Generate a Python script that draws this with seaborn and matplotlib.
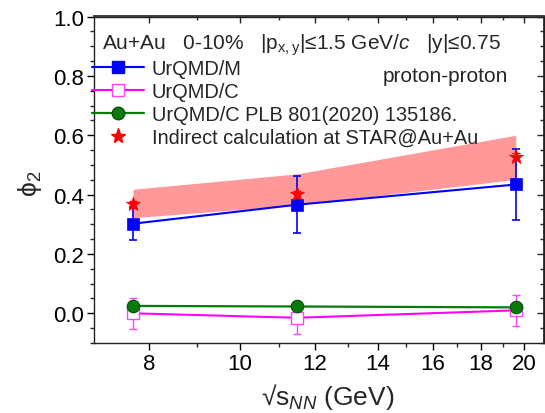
import numpy as np
import pandas as pd
import seaborn as sns
import matplotlib
matplotlib.use('Agg')
import matplotlib.pyplot as plt
from matplotlib.lines import Line2D
from matplotlib.ticker import FixedLocator, FixedFormatter, NullFormatter, MultipleLocator

# collision energies (GeV)
energy = [7.7, 11.5, 19.6]

# UrQMD/M
urqmd_m = [0.302, 0.366, 0.434]
urqmd_m_err = [0.055, 0.095, 0.118]

# UrQMD/C
urqmd_c = [0.0, -0.015, 0.010]
urqmd_c_err = [0.053, 0.053, 0.053]

# UrQMD/C PLB 801(2020) 135186
urqmd_plb = [0.025, 0.023, 0.020]

# indirect calculation at STAR
star_vals = [0.367, 0.401, 0.528]
star_err = [0.012, 0.012, 0.012]

# shaded band
band_low = [0.322, 0.365, 0.451]
band_high = [0.418, 0.470, 0.600]

xticks = [8, 10, 12, 14, 16, 18, 20]
xminor = [9, 11, 13, 15, 17, 19]

sns.set_theme(style='ticks')
plt.rcParams['font.family'] = ['Liberation Sans', 'DejaVu Sans']
plt.rcParams['mathtext.fontset'] = 'custom'
plt.rcParams['mathtext.rm'] = 'Liberation Sans'
plt.rcParams['mathtext.it'] = 'Liberation Sans:italic'
plt.rcParams['mathtext.bf'] = 'Liberation Sans:bold'

fig = plt.figure(figsize=(5.45, 4.14), dpi=100)
ax = fig.add_axes([94 / 545, 1 - 344 / 414, 450 / 545, 326.5 / 414])
ax.set_xscale('log')

# band
ax.fill_between(energy, band_low, band_high, color='#ff9999', lw=0, zorder=1)

# UrQMD/C PLB (green)
sns.lineplot(x=energy, y=urqmd_plb, color='#0a7a0a', marker='o', markersize=9,
             markeredgecolor='#065006', markeredgewidth=0.8, linewidth=1.6, ax=ax, zorder=4)

# UrQMD/C (magenta, open squares)
ax.errorbar(energy, urqmd_c, yerr=urqmd_c_err, fmt='none', ecolor='#ff44ff',
            elinewidth=1.0, capsize=3, capthick=1.0, zorder=3)
sns.lineplot(x=energy, y=urqmd_c, color='magenta', marker='s', markersize=8,
             markerfacecolor='white', markeredgecolor='#ff44ff', markeredgewidth=1.0,
             linewidth=1.5, ax=ax, zorder=3)

# UrQMD/M (blue)
ax.errorbar(energy, urqmd_m, yerr=urqmd_m_err, fmt='none', ecolor='blue',
            elinewidth=1.2, capsize=3, capthick=1.2, zorder=5)
sns.lineplot(x=energy, y=urqmd_m, color='blue', marker='s', markersize=8,
             markeredgecolor='blue', markeredgewidth=0.5, linewidth=1.5, ax=ax, zorder=5)

# STAR indirect (red stars)
ax.errorbar(energy, star_vals, yerr=star_err, fmt='none', ecolor='red',
            elinewidth=1.0, capsize=3, capthick=1.0, zorder=6)
sns.scatterplot(x=energy, y=star_vals, marker='*', s=115, color='red',
                edgecolor='red', linewidth=0.5, ax=ax, zorder=7)

ax.set_xlim(7, 21)
ax.set_ylim(-0.1, 1.0)
ax.xaxis.set_major_locator(FixedLocator(xticks))
ax.xaxis.set_major_formatter(FixedFormatter([str(t) for t in xticks]))
ax.xaxis.set_minor_locator(FixedLocator(xminor))
ax.xaxis.set_minor_formatter(NullFormatter())
ax.yaxis.set_major_locator(MultipleLocator(0.2))
ax.yaxis.set_minor_locator(MultipleLocator(0.05))
ax.yaxis.set_major_formatter(plt.FormatStrFormatter('%.1f'))

ax.tick_params(which='major', direction='out', length=5, width=1, labelsize=16,
               pad=2, colors='black')
ax.tick_params(which='minor', direction='out', length=3, width=1)
for s in ax.spines.values():
    s.set_linewidth(1.0)
    s.set_color('#222222')

# mirrored ticks on top and right
top = ax.secondary_xaxis('top')
top.xaxis.set_major_locator(FixedLocator(xticks))
top.xaxis.set_minor_locator(FixedLocator(xminor))
top.xaxis.set_major_formatter(NullFormatter())
top.xaxis.set_minor_formatter(NullFormatter())
top.tick_params(which='major', direction='in', length=5, width=1)
top.tick_params(which='minor', direction='in', length=3, width=1)
right = ax.secondary_yaxis('right')
right.yaxis.set_major_locator(MultipleLocator(0.2))
right.yaxis.set_minor_locator(MultipleLocator(0.05))
right.yaxis.set_major_formatter(NullFormatter())
right.tick_params(which='major', direction='in', length=5, width=1)
right.tick_params(which='minor', direction='in', length=3, width=1)

ax.set_xlabel(r'√s$_{NN}$ (GeV)', fontsize=19, labelpad=2)
ax.xaxis.set_label_coords(0.52, -0.115)
ax.set_ylabel(r'$\mathregular{\phi_2}$', fontsize=19)
ax.yaxis.set_label_coords(-0.11, 0.49)

ax.text(0.018, 0.916, r'Au+Au   0-10%   |p$_{\mathregular{x,y}}$|≤1.5 GeV/$c$   |y|≤0.75',
        transform=ax.transAxes, fontsize=15, va='center', ha='left')
ax.text(0.642, 0.818, 'proton-proton', transform=ax.transAxes, fontsize=15,
        va='center', ha='left')

handles = [
    Line2D([], [], color='blue', marker='s', markersize=8, markeredgecolor='blue', lw=1.5),
    Line2D([], [], color='magenta', marker='s', markersize=8, markerfacecolor='white',
           markeredgecolor='#ff44ff', lw=1.5),
    Line2D([], [], color='#0a7a0a', marker='o', markersize=9, markeredgecolor='#065006', lw=1.6),
    Line2D([], [], color='red', marker='*', markersize=11, lw=0),
]
labels = ['UrQMD/M', 'UrQMD/C', 'UrQMD/C PLB 801(2020) 135186.',
          'Indirect calculation at STAR@Au+Au']
ax.legend(handles, labels, loc='upper left', bbox_to_anchor=(-0.005, 0.871),
          frameon=False, fontsize=14.4, handlelength=2.63, handletextpad=0.36,
          labelspacing=0.2, borderpad=0, borderaxespad=0)

fig.savefig('out.png', dpi=100)
